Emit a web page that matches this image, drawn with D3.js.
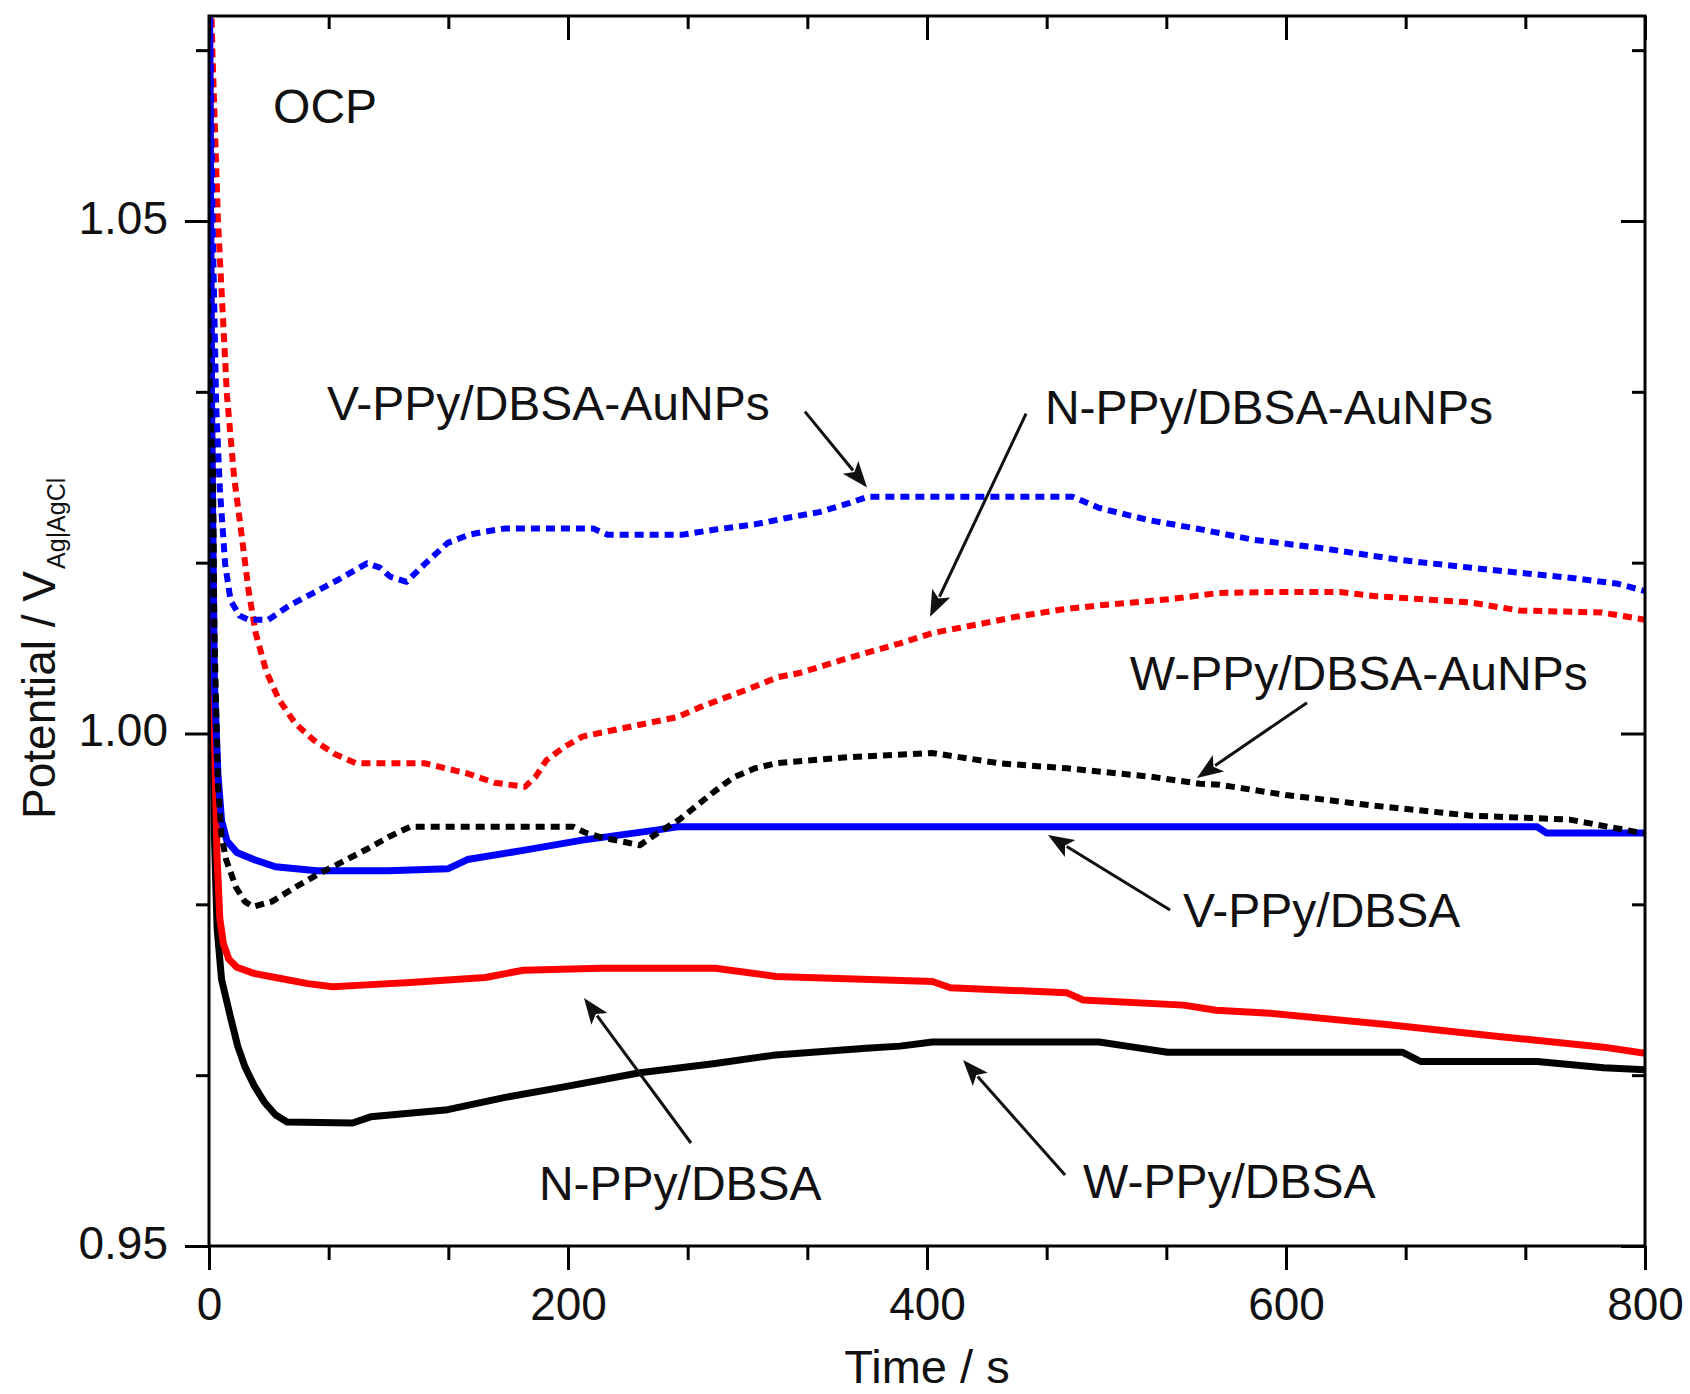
<!DOCTYPE html>
<html>
<head>
<meta charset="utf-8">
<script src="https://cdn.jsdelivr.net/npm/d3@7"></script>
<style>
  html, body { margin: 0; padding: 0; background: #fff; }
  svg { display: block; }
  text { font-family: "Liberation Sans", Arial, Helvetica, sans-serif; fill: #111; }
</style>
</head>
<body>
<script>
// ---------------- data (time in s, potential in V vs Ag|AgCl) ----------------
const vAuNPs = [[0,1.080],[2,1.050],[4,1.032],[6,1.024],[9,1.0165],[12,1.013],[17,1.0115],[22,1.0111],[33,1.0111],[45,1.0125],[58,1.0137],[72,1.0150],[88,1.0166],[95,1.0162],[101,1.0153],[110,1.0148],[120,1.0165],[133,1.0186],[145,1.0194],[154,1.0197],[165,1.0200],[214,1.0200],[222,1.0194],[264,1.0194],[282,1.0199],[304,1.0204],[324,1.0211],[340,1.0216],[357,1.0225],[367,1.0231],[481,1.0231],[496,1.0220],[524,1.0208],[550,1.0200],[582,1.0189],[619,1.0181],[665,1.0169],[712,1.0160],[758,1.0152],[785,1.0146],[800,1.0139]];
const nAuNPs = [[0,1.080],[2,1.066],[5,1.050],[10,1.033],[14,1.025],[18,1.0196],[22,1.0140],[26,1.0098],[32,1.0060],[39,1.0033],[48,1.0010],[58,0.9994],[70,0.9980],[82,0.9971],[120,0.9971],[132,0.9966],[144,0.9961],[159,0.9952],[176,0.9948],[182,0.9958],[188,0.9974],[198,0.9987],[208,0.9997],[230,1.0005],[261,1.0016],[274,1.0026],[300,1.0043],[317,1.0055],[329,1.0059],[355,1.0073],[385,1.0088],[403,1.0098],[430,1.0107],[450,1.0114],[475,1.0121],[496,1.0125],[535,1.0131],[562,1.0137],[591,1.0138],[630,1.0138],[650,1.0134],[702,1.0128],[730,1.0120],[776,1.0118],[800,1.0111]];
const wAuNPs = [[0,1.080],[1.5,1.040],[3,1.010],[5,0.995],[7,0.990],[9.5,0.9877],[15,0.9850],[20,0.9836],[24.5,0.9831],[35,0.9836],[48,0.9850],[60,0.9862],[69,0.9870],[80,0.9880],[90,0.9889],[100,0.9899],[112,0.9909],[203,0.9909],[210,0.9903],[218,0.9899],[240,0.9891],[250,0.9903],[262,0.9916],[272,0.9930],[282,0.9944],[292,0.9957],[304,0.9966],[316,0.9971],[357,0.9977],[403,0.9981],[440,0.9971],[478,0.9966],[524,0.9958],[552,0.9951],[563,0.9950],[600,0.9940],[647,0.9930],[702,0.9920],[758,0.9916],[795,0.9904],[800,0.9903]];
const vPlain = [[0,1.080],[1.5,1.030],[3,1.005],[5,0.996],[7,0.9915],[10,0.9895],[15.5,0.9884],[25,0.9877],[37,0.9870],[60,0.9866],[100,0.9866],[133,0.9868],[144,0.9877],[175,0.9886],[208,0.9896],[250,0.9906],[261,0.9909],[740,0.9909],[745,0.9903],[800,0.9903]];
const nPlain = [[0,1.080],[1.5,1.030],[3,1.000],[4.5,0.988],[6,0.982],[8,0.9795],[11,0.9780],[15.5,0.9772],[25,0.9766],[37,0.9762],[55,0.9756],[69,0.9753],[90,0.9755],[112,0.9757],[154,0.9762],[175,0.9769],[218,0.9771],[282,0.9771],[316,0.9763],[403,0.9758],[413,0.9752],[478,0.9747],[487,0.9740],[543,0.9735],[561,0.9730],[591,0.9727],[656,0.9716],[721,0.9704],[777,0.9694],[800,0.9688]];
const wPlain = [[0,1.080],[1,1.040],[2,1.005],[3,0.990],[4.5,0.981],[7,0.976],[12,0.9723],[16,0.9695],[20,0.9675],[25,0.9657],[31,0.9640],[37,0.9628],[43.5,0.9621],[80,0.9620],[90,0.9626],[133,0.9633],[165,0.9645],[197,0.9655],[240,0.9669],[282,0.9678],[314,0.9686],[366,0.9693],[385,0.9695],[403,0.9699],[496,0.9699],[515,0.9694],[534,0.9689],[665,0.9689],[675,0.9680],[740,0.9680],[777,0.9674],[800,0.9672]];

const xMajorTicks = [0, 200, 400, 600, 800];
const xTickLabels = ["0", "200", "400", "600", "800"];
const yMajorTicks = [0.95, 1.00, 1.05];
const yTickLabels = ["0.95", "1.00", "1.05"];
const xLabel = "Time / s";
const yLabelMain = "Potential / V";
const yLabelSub = "Ag|AgCl";

// annotation labels and arrows (data coordinates)
const labelTexts = ["OCP", "V-PPy/DBSA-AuNPs", "N-PPy/DBSA-AuNPs", "W-PPy/DBSA-AuNPs", "V-PPy/DBSA", "N-PPy/DBSA", "W-PPy/DBSA"];
const labelT = [35.7, 65.7, 465.7, 513, 542.6, 183.8, 486.9];
const labelV = [1.0596, 1.0306, 1.0302, 1.0042, 0.9811, 0.9545, 0.9547];
const arrowTail = [[332, 1.0314], [455.2, 1.0312], [611.7, 1.0030], [535.4, 0.98278], [268.5, 0.96005], [476.9, 0.95693]];
const arrowTip  = [[366.6, 1.0240], [401.7, 1.0114], [550.4, 0.99566], [467.4, 0.99010], [208.9, 0.97420], [420.1, 0.96815]];

// ---------------- layout ----------------
const W = 1690, H = 1394;
const L = 209, R = 1645, T = 16, B = 1246;

const svg = d3.select("body").append("svg").attr("width", W).attr("height", H);

const x = d3.scaleLinear().domain([0, 800]).range([L, R]);
const y = d3.scaleLinear().domain([0.95, 1.07]).range([B, T]);

svg.append("defs").append("clipPath").attr("id", "clip")
  .append("rect").attr("x", L).attr("y", T).attr("width", R - L).attr("height", B - T);

const line = d3.line().x(d => x(d[0])).y(d => y(d[1]));

const series = [
  {data: wPlain, color: "#000000", dash: null},
  {data: nPlain, color: "#ff0000", dash: null},
  {data: vPlain, color: "#0000ff", dash: null},
  {data: wAuNPs, color: "#000000", dash: "9,6"},
  {data: nAuNPs, color: "#ff0000", dash: "9,6"},
  {data: vAuNPs, color: "#0000ff", dash: "9,6"}
];

const g = svg.append("g").attr("clip-path", "url(#clip)");
series.forEach(s => {
  g.append("path")
    .attr("d", line(s.data))
    .attr("fill", "none")
    .attr("stroke", s.color)
    .attr("stroke-width", s.dash ? 6 : 7)
    .attr("stroke-linejoin", "round")
    .attr("stroke-dasharray", s.dash);
});

// ---------------- axes ----------------
const xMinor = d3.range(0, 801, 200 / 3).map(v => Math.round(v * 1000) / 1000).filter(v => v % 200 !== 0);
const yMinor = d3.range(1, 8).map(k => 0.95 + k * 0.05 / 3).filter(v => Math.abs(v - 1.0) > 1e-6 && Math.abs(v - 1.05) > 1e-6);

// bottom (outward)
const gb = svg.append("g").attr("transform", `translate(0,${B})`)
  .call(d3.axisBottom(x).tickValues(xMajorTicks).tickFormat((d, i) => xTickLabels[i]).tickSize(24).tickSizeOuter(0));
gb.select(".domain").remove();
gb.selectAll("text").attr("font-size", 46).attr("dy", null).attr("y", 74)
  .style("font-family", '"Liberation Sans", Arial, sans-serif').attr("fill", "#111");
svg.append("g").attr("transform", `translate(0,${B})`)
  .call(d3.axisBottom(x).tickValues(xMinor).tickSize(14).tickFormat(""))
  .call(s => s.select(".domain").remove());

// top (inward)
svg.append("g").attr("transform", `translate(0,${T})`)
  .call(d3.axisBottom(x).tickValues(xMajorTicks).tickSize(24).tickFormat(""))
  .call(s => s.select(".domain").remove());
svg.append("g").attr("transform", `translate(0,${T})`)
  .call(d3.axisBottom(x).tickValues(xMinor).tickSize(13).tickFormat(""))
  .call(s => s.select(".domain").remove());

// left (outward)
const gl = svg.append("g").attr("transform", `translate(${L},0)`)
  .call(d3.axisLeft(y).tickValues(yMajorTicks).tickFormat((d, i) => yTickLabels[i]).tickSize(24).tickSizeOuter(0));
gl.select(".domain").remove();
gl.selectAll("text").attr("font-size", 46).attr("dy", null).attr("x", -41).attr("y", 12)
  .style("font-family", '"Liberation Sans", Arial, sans-serif').attr("fill", "#111");
svg.append("g").attr("transform", `translate(${L},0)`)
  .call(d3.axisLeft(y).tickValues(yMinor).tickSize(13).tickFormat(""))
  .call(s => s.select(".domain").remove());

// right (inward)
svg.append("g").attr("transform", `translate(${R},0)`)
  .call(d3.axisLeft(y).tickValues(yMajorTicks).tickSize(24).tickFormat(""))
  .call(s => s.select(".domain").remove());
svg.append("g").attr("transform", `translate(${R},0)`)
  .call(d3.axisLeft(y).tickValues(yMinor).tickSize(13).tickFormat(""))
  .call(s => s.select(".domain").remove());

svg.selectAll(".tick line").attr("stroke", "#000").attr("stroke-width", 3);

// frame
svg.append("rect").attr("x", L).attr("y", T).attr("width", R - L).attr("height", B - T)
  .attr("fill", "none").attr("stroke", "#000").attr("stroke-width", 3);

// axis titles
svg.append("text").attr("x", (L + R) / 2).attr("y", 1383).attr("text-anchor", "middle")
  .attr("font-size", 47).text(xLabel);

const yt = svg.append("text").attr("transform", "translate(55,819) rotate(-90)")
  .attr("font-size", 46);
yt.append("tspan").text(yLabelMain);
yt.append("tspan").attr("font-size", 25).attr("dy", 10).attr("dx", 2).text(yLabelSub);

// annotations
labelTexts.forEach((t, i) => {
  svg.append("text").attr("x", x(labelT[i])).attr("y", y(labelV[i]))
    .attr("font-size", 48).text(t);
});

arrowTail.forEach((tail, i) => {
  const tip = arrowTip[i];
  const x0 = x(tail[0]), y0 = y(tail[1]), x1 = x(tip[0]), y1 = y(tip[1]);
  const ang = Math.atan2(y1 - y0, x1 - x0);
  const hl = 26, hw = 10;
  const bx = x1 - hl * Math.cos(ang), by = y1 - hl * Math.sin(ang);
  svg.append("line").attr("x1", x0).attr("y1", y0).attr("x2", bx + 4 * Math.cos(ang)).attr("y2", by + 4 * Math.sin(ang))
    .attr("stroke", "#111").attr("stroke-width", 3);
  const px = -Math.sin(ang), py = Math.cos(ang);
  svg.append("polygon")
    .attr("points", [[x1, y1], [bx + hw * px, by + hw * py], [bx + 6 * Math.cos(ang), by + 6 * Math.sin(ang)], [bx - hw * px, by - hw * py]].map(p => p.join(",")).join(" "))
    .attr("fill", "#111");
});
</script>
</body>
</html>
